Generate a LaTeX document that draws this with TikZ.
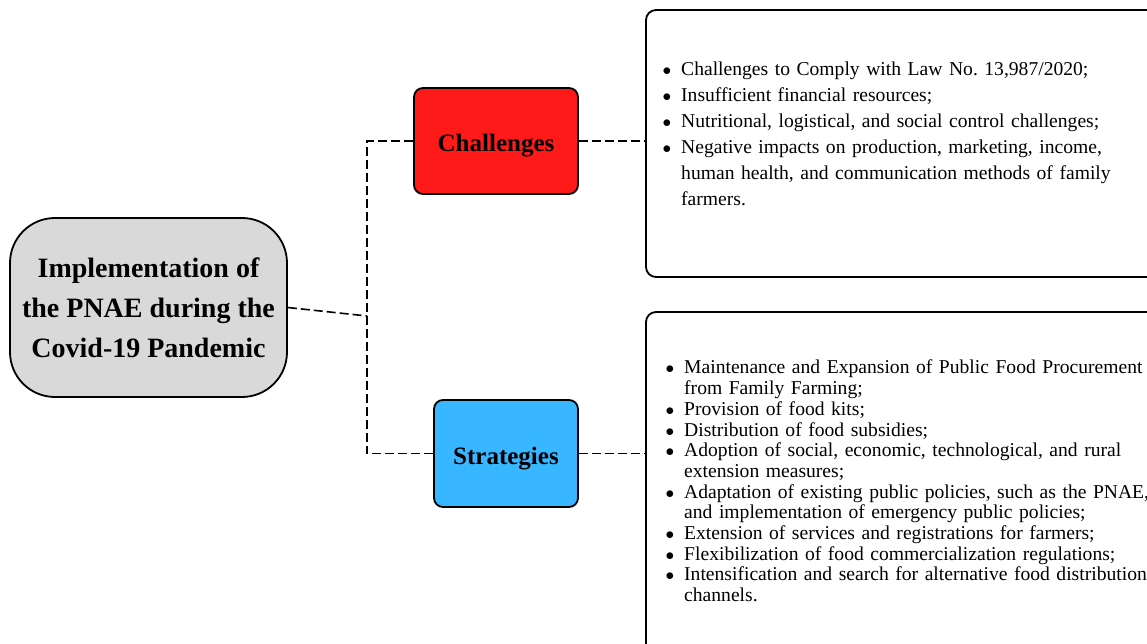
\documentclass[tikz,border=0pt]{standalone}
\usepackage{fontspec}
\setmainfont{Liberation Serif}
\usetikzlibrary{calc,positioning}

\definecolor{pnaegray}{HTML}{D9D9D9}
\definecolor{chalred}{HTML}{FF1A1A}
\definecolor{stratblue}{HTML}{38B6FF}

\frenchspacing
\newcommand{\pointmark}{{\fontsize{16}{16}\selectfont$\bullet$}}
\newenvironment{pointlist}{\begin{list}{\pointmark}{\setlength{\leftmargin}{19pt}\setlength{\labelwidth}{9pt}\setlength{\labelsep}{10pt}\setlength{\itemsep}{0pt}\setlength{\parsep}{0pt}\setlength{\topsep}{0pt}\setlength{\partopsep}{0pt}}}{\end{list}}

\begin{document}
\begin{tikzpicture}[x=1pt,y=-1pt,
  topic/.style={draw,line width=1.8pt,rounded corners=9pt,text height=22pt,text depth=0pt,font=\fontsize{25}{30}\selectfont\bfseries},
  panel/.style={draw,line width=1.8pt,rounded corners=10pt,fill=white,minimum width=514pt},
  points/.style={anchor=north west,inner sep=0pt,text width=520pt,align=left},
  link/.style={line width=1.6pt,dash pattern=on 9pt off 4pt}]
  \clip (0,0) rectangle (1147,644);

  \node[draw,line width=1.8pt,rounded corners=45pt,fill=pnaegray,minimum width=277pt,minimum height=179pt,align=center,font=\fontsize{28}{40}\selectfont\bfseries] (pnae) at (148.5,307.5) {Implementation of\\the PNAE during the\\Covid-19 Pandemic};

  \node[topic,fill=chalred,minimum width=164pt,minimum height=106pt] (chal) at (496,141) {Challenges};
  \node[topic,fill=stratblue,minimum width=144pt,minimum height=107pt] (strat) at (506,453.5) {Strategies};

  \node[panel,minimum height=267pt] (chalbox) at (903,143.5) {};
  \node[panel,minimum height=348pt] (stratbox) at (903,486) {};

  \node[points,font=\fontsize{19.6}{26}\selectfont] (chaltext) at (662,49) {
    \begin{pointlist}
      \item Challenges to Comply with Law No. 13,987/2020;
      \item Insufficient financial resources;
      \item Nutritional, logistical, and social control challenges;
      \item Negative impacts on production, marketing, income,\\human health, and communication methods of family\\farmers.
    \end{pointlist}
  };
  \node[points,font=\fontsize{19.6}{20.7}\selectfont] (strattext) at (665,353) {
    \begin{pointlist}
      \item Maintenance and Expansion of Public Food Procurement\\from Family Farming;
      \item Provision of food kits;
      \item Distribution of food subsidies;
      \item Adoption of social, economic, technological, and rural\\extension measures;
      \item Adaptation of existing public policies, such as the PNAE,\\and implementation of emergency public policies;
      \item Extension of services and registrations for farmers;
      \item Flexibilization of food commercialization regulations;
      \item Intensification and search for alternative food distribution\\channels.
    \end{pointlist}
  };

  \coordinate (fork) at (367,316);
  \draw[link] (pnae.east) -- (fork);
  \draw[link] (chal.west) -| (fork) |- (strat.west);
  \draw[link] (chal.east) -- (chal.east -| chalbox.west);
  \draw[link] (strat.east) -- (strat.east -| stratbox.west);
\end{tikzpicture}
\end{document}
